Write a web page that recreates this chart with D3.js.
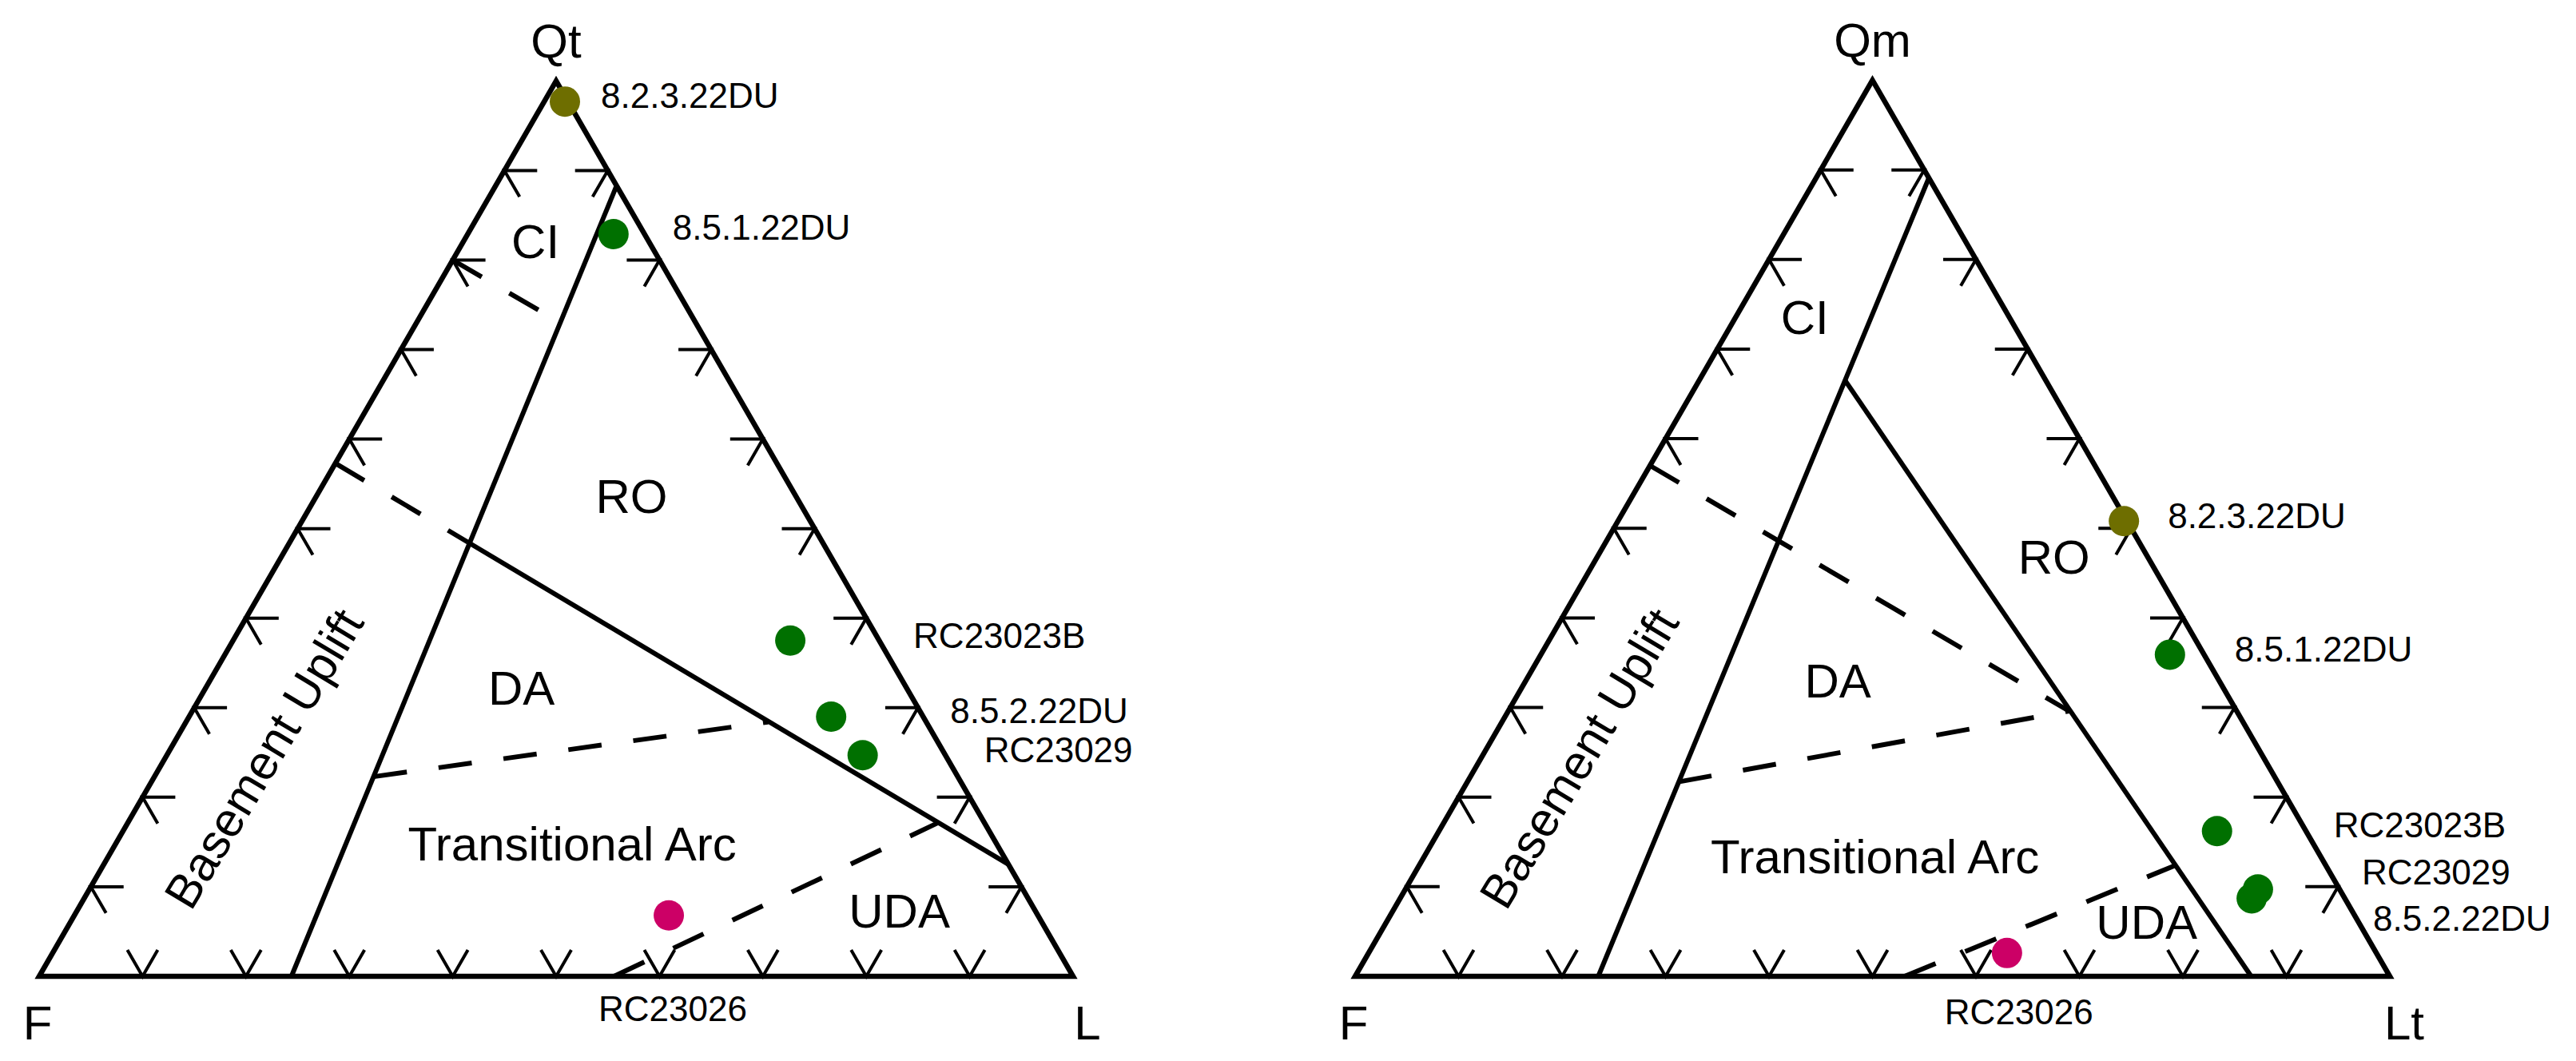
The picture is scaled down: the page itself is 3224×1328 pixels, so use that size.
<!DOCTYPE html>
<html><head><meta charset="utf-8">
<script src="https://cdn.jsdelivr.net/npm/d3@7"></script>
<style>
html,body{margin:0;padding:0;background:#fff;}
svg{display:block;font-family:"Liberation Sans",Arial,Helvetica,sans-serif;}
</style>
</head><body>
<svg id="chart" width="3224" height="1328"></svg>
<script>
// ---------------- DATA ----------------
const samples = ["8.2.3.22DU", "8.5.1.22DU", "RC23023B", "8.5.2.22DU", "RC23029", "RC23026"];
const sampleGroups = ["olive", "green", "green", "green", "green", "pink"];

// QtFL (percent): Qt, F, L
const qtflQt = [97.7, 82.9, 37.5, 29.0, 24.7, 6.8];
const qtflF  = [0.3, 3.0, 8.6, 8.9, 8.0, 35.7];
const qtflL  = [2.0, 14.1, 53.9, 62.1, 67.3, 57.5];

// QmFLt (percent): Qm, F, Lt
const qmfltQm = [50.8, 35.9, 16.2, 8.7, 9.7, 2.6];
const qmfltF  = [0.3, 3.3, 8.6, 9.0, 7.9, 35.7];
const qmfltLt = [48.9, 60.8, 75.2, 82.3, 82.4, 61.7];

const tickValues = [10, 20, 30, 40, 50, 60, 70, 80, 90];

// Field boundaries, ternary [top, F, right] in percent
const qtflSolid = [
  [[88.3, 0, 11.7], [0, 75.6, 24.4]],
  [[48.5, 34.3, 17.2], [12.5, 0, 87.5]]
];
const qtflDashed = [
  [[80, 20, 0], [73, 13.1, 13.9]],
  [[57.3, 42.7, 0], [48.5, 34.3, 17.2]],
  [[22.3, 56.5, 21.2], [28.4, 15.3, 56.3]],
  [[0, 44.4, 55.6], [17.1, 4.6, 78.3]]
];
const qmfltSolid = [
  [[89.1, 0, 10.9], [0, 76.5, 23.5]],
  [[66.6, 19.4, 14.0], [0, 13.4, 86.6]]
];
const qmfltDashed = [
  [[57, 43, 0], [29.6, 16.2, 54.2]],
  [[21.7, 57.9, 20.4], [29.6, 16.2, 54.2]],
  [[0, 46.9, 53.1], [12.4, 14.5, 73.1]]
];

const fieldNames = ["CI", "RO", "DA", "Transitional Arc", "UDA", "Basement Uplift"];
const qtflFieldAt  = [[80.2, 11.9, 7.9], [51.8, 16.8, 31.4], [30.3, 38.2, 31.5], [12.9, 42.0, 45.1], [5.4, 14.1, 80.5], [24.3, 66.1, 9.6]];
const qmfltFieldAt = [[71.7, 20.7, 7.6], [44.9, 10.0, 45.1], [31.1, 37.8, 31.1], [11.5, 44.0, 44.5], [4.2, 21.4, 74.4], [24.3, 66.2, 9.5]];

const qtflApexNames  = ["Qt", "F", "L"];
const qmfltApexNames = ["Qm", "F", "Lt"];

// ---------------- LAYOUT / STYLE ----------------
const color = d3.scaleOrdinal().domain(["olive", "green", "pink"]).range(["#6e6e00", "#007000", "#cc0066"]);
const svg = d3.select("#chart");

function makeProj(x0, x1, baseY) {
  const side = x1 - x0, h = side * Math.sqrt(3) / 2;
  const xs = d3.scaleLinear().domain([0, 100]).range([x0, x1]);
  const ys = d3.scaleLinear().domain([0, 100]).range([baseY, baseY - h]);
  return function (c) {
    const s = c[0] + c[1] + c[2];
    const t = c[0] / s * 100, r = c[2] / s * 100;
    return [xs(r + t / 2), ys(t)];
  };
}

function drawTernary(cfg) {
  const proj = makeProj(cfg.x0, cfg.x1, cfg.baseY);
  const g = svg.append("g");
  const line = d3.line();
  const A = proj([100, 0, 0]), B = proj([0, 100, 0]), C = proj([0, 0, 100]);

  // ticks
  const tk = g.append("g").attr("stroke", "#000").attr("stroke-width", 4).attr("fill", "none");
  const H = 41, S = 38, c60 = 0.5, s60 = Math.sqrt(3) / 2;
  tickValues.forEach(v => {
    const pl = proj([v, 100 - v, 0]);
    tk.append("path").attr("d", line([[pl[0] + H, pl[1]], pl, [pl[0] + S * c60, pl[1] + S * s60]]));
    const pr = proj([v, 0, 100 - v]);
    tk.append("path").attr("d", line([[pr[0] - H, pr[1]], pr, [pr[0] - S * c60, pr[1] + S * s60]]));
    const pb = proj([0, 100 - v, v]);
    tk.append("path").attr("d", line([[pb[0] - S * c60, pb[1] - S * s60], pb, [pb[0] + S * c60, pb[1] - S * s60]]));
  });

  // boundaries
  cfg.solid.forEach(seg => {
    g.append("path").attr("d", line(seg.map(proj))).attr("stroke", "#000").attr("stroke-width", 6).attr("fill", "none");
  });
  cfg.dashed.forEach(seg => {
    g.append("path").attr("d", line(seg.map(proj))).attr("stroke", "#000").attr("stroke-width", 6)
      .attr("stroke-dasharray", "42,40").attr("fill", "none");
  });

  // outline
  g.append("path").attr("d", line([A, B, C]) + "Z").attr("stroke", "#000").attr("stroke-width", 6.5)
    .attr("fill", "none").attr("stroke-linejoin", "miter").attr("stroke-miterlimit", 10);

  // field labels
  fieldNames.forEach((name, i) => {
    const p = proj(cfg.fieldAt[i]);
    const t = g.append("text").attr("font-size", 60).attr("fill", "#000").attr("text-anchor", "middle").text(name);
    if (name === "Basement Uplift") {
      t.attr("dominant-baseline", "central").attr("transform", `translate(${p[0]},${p[1]}) rotate(-59)`);
    } else {
      t.attr("x", p[0]).attr("y", p[1]);
    }
  });

  // apex labels
  g.append("text").attr("x", A[0]).attr("y", A[1] - 29).attr("font-size", 60).attr("text-anchor", "middle").text(cfg.apex[0]);
  g.append("text").attr("x", B[0] - 2).attr("y", B[1] + 79).attr("font-size", 60).attr("text-anchor", "middle").text(cfg.apex[1]);
  g.append("text").attr("x", C[0] + cfg.rightLabelDx).attr("y", C[1] + 79).attr("font-size", 60).attr("text-anchor", "middle").text(cfg.apex[2]);

  // points
  const pts = samples.map((s, i) => ({ name: s, grp: sampleGroups[i], p: proj([cfg.top[i], cfg.f[i], cfg.right[i]]), off: cfg.labelOff[i] }));
  g.append("g").selectAll("circle").data(pts).join("circle")
    .attr("cx", d => d.p[0]).attr("cy", d => d.p[1]).attr("r", 19).attr("fill", d => color(d.grp));
  g.append("g").selectAll("text").data(pts).join("text")
    .attr("x", d => d.p[0] + d.off[0]).attr("y", d => d.p[1] + d.off[1])
    .attr("font-size", 44).attr("fill", "#000").text(d => d.name);
}

drawTernary({
  x0: 49, x1: 1343, baseY: 1222,
  solid: qtflSolid, dashed: qtflDashed, fieldAt: qtflFieldAt, apex: qtflApexNames, rightLabelDx: 18,
  top: qtflQt, f: qtflF, right: qtflL,
  labelOff: [[45, 8], [74, 7], [154, 9], [149, 8], [152, 9], [-88, 132]]
});
drawTernary({
  x0: 1696, x1: 2991, baseY: 1222,
  solid: qmfltSolid, dashed: qmfltDashed, fieldAt: qmfltFieldAt, apex: qmfltApexNames, rightLabelDx: 18,
  top: qmfltQm, f: qmfltF, right: qmfltLt,
  labelOff: [[55, 9], [81, 9], [146, 8], [152, 41], [130, -6], [-78, 89]]
});
</script>
</body></html>
